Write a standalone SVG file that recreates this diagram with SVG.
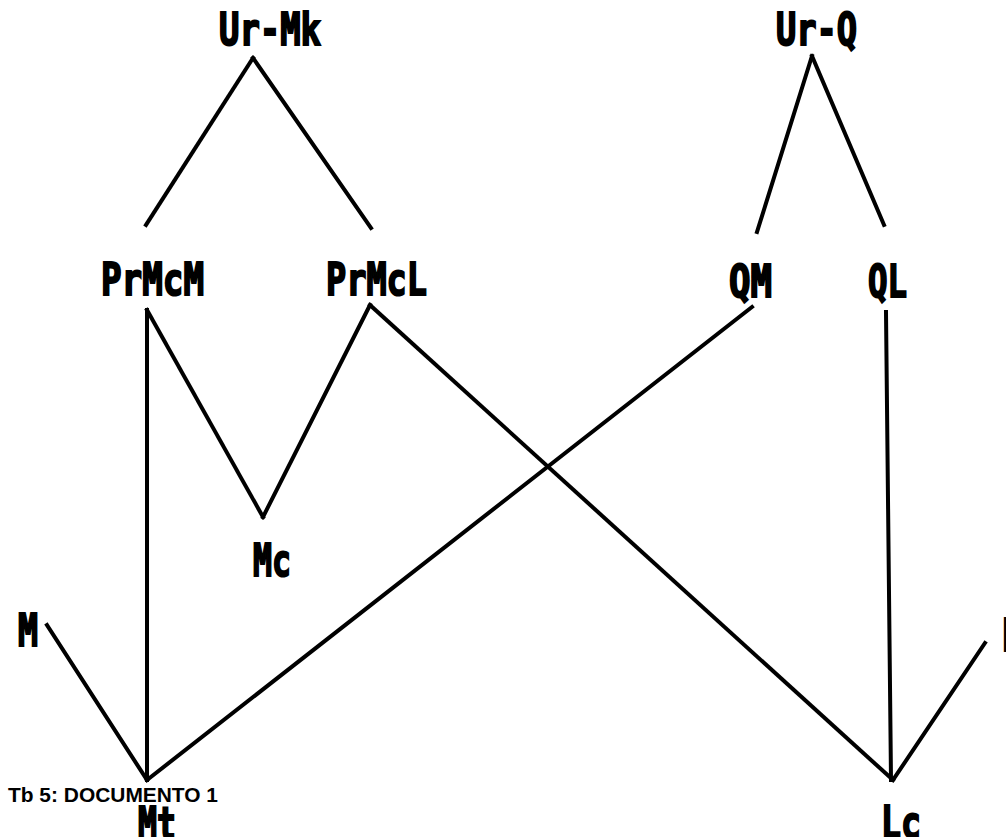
<svg xmlns="http://www.w3.org/2000/svg" width="1006" height="837" viewBox="0 0 1006 837">
<style>
.lbl{font-family:"DejaVu Sans Mono","Liberation Mono",monospace;font-weight:bold;font-size:44px;fill:#000;stroke:#000;stroke-width:2;stroke-linejoin:miter}
.cap{font-family:"Liberation Sans",Arial,sans-serif;font-weight:bold;font-size:20px;fill:#000}
.e{stroke:#000;stroke-width:4;fill:none;stroke-linecap:square}
</style>
<rect width="1006" height="837" fill="#fff"/>
<g id="connectors">
<line class="e" x1="253" y1="58" x2="146" y2="225"/>
<line class="e" x1="253" y1="58" x2="371" y2="228"/>
<line class="e" x1="812" y1="56" x2="757" y2="232"/>
<line class="e" x1="812" y1="56" x2="884" y2="225"/>
<line class="e" x1="147" y1="310" x2="147" y2="780"/>
<line class="e" x1="147" y1="310" x2="263" y2="517"/>
<line class="e" x1="370" y1="305" x2="263" y2="517"/>
<line class="e" x1="370" y1="305" x2="893" y2="780"/>
<line class="e" x1="752" y1="307" x2="147" y2="780"/>
<line class="e" x1="886" y1="312" x2="891" y2="780"/>
<line class="e" x1="47" y1="625" x2="147" y2="780"/>
<line class="e" x1="985" y1="643" x2="893" y2="780"/>
</g>
<g id="n-urmk"><text class="lbl" x="219" y="45" textLength="102" lengthAdjust="spacingAndGlyphs">Ur-Mk</text></g>
<g id="n-urq"><text class="lbl" x="776" y="45" textLength="81" lengthAdjust="spacingAndGlyphs">Ur-Q</text></g>
<g id="n-prmcm"><text class="lbl" x="101" y="295" textLength="103" lengthAdjust="spacingAndGlyphs">PrMcM</text></g>
<g id="n-prmcl"><text class="lbl" x="326" y="295" textLength="101" lengthAdjust="spacingAndGlyphs">PrMcL</text></g>
<g id="n-qm"><text class="lbl" x="729" y="297" textLength="43" lengthAdjust="spacingAndGlyphs">QM</text></g>
<g id="n-ql"><text class="lbl" x="868" y="297" textLength="39" lengthAdjust="spacingAndGlyphs">QL</text></g>
<g id="n-mc"><text class="lbl" x="253" y="576" textLength="38" lengthAdjust="spacingAndGlyphs">Mc</text></g>
<g id="n-m"><text class="lbl" x="18" y="646" textLength="20" lengthAdjust="spacingAndGlyphs">M</text></g>
<g id="n-l"><text class="lbl" x="1001" y="651" textLength="20" lengthAdjust="spacingAndGlyphs">L</text></g>
<g id="n-mt"><text class="lbl" x="138" y="839" textLength="38" lengthAdjust="spacingAndGlyphs">Mt</text></g>
<g id="n-lc"><text class="lbl" x="881" y="838" textLength="40" lengthAdjust="spacingAndGlyphs">Lc</text></g>
<g id="caption"><text class="cap" x="8" y="802" textLength="210" lengthAdjust="spacingAndGlyphs">Tb 5: DOCUMENTO 1</text></g>
</svg>
